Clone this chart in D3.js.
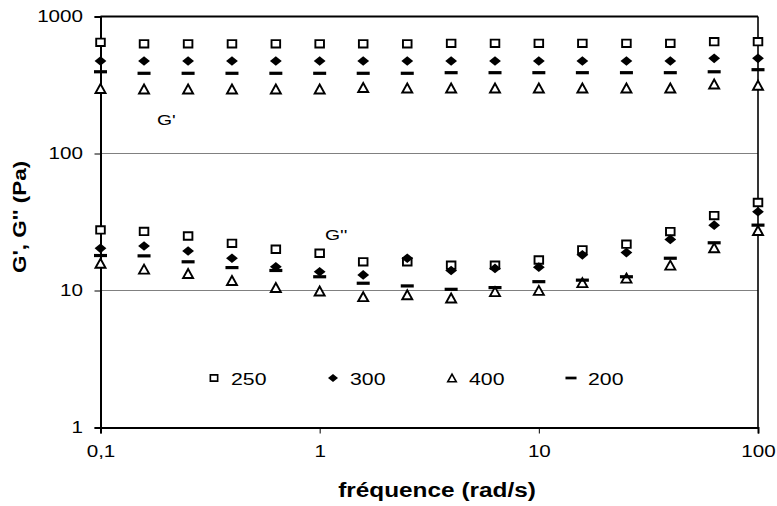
<!DOCTYPE html>
<html>
<head>
<meta charset="utf-8">
<script src="https://cdn.jsdelivr.net/npm/d3@7"></script>
<style>
  body { margin: 0; background: #fff; }
  text { font-family: "Liberation Sans", Arial, sans-serif; fill: #000; }
</style>
</head>
<body>
<div id="chart"></div>
<script>
// angular frequency (rad/s)
const freq = [0.1, 0.158, 0.251, 0.398, 0.631, 1, 1.58, 2.51, 3.98, 6.31, 10, 15.8, 25.1, 39.8, 63.1, 100];

// G' (storage modulus, Pa)
const gp250 = [648, 632, 632, 632, 632, 632, 632, 632, 637, 637, 637, 637, 637, 637, 655, 655];
const gp300 = [473, 473, 473, 473, 473, 473, 473, 473, 473, 473, 473, 473, 473, 473, 495, 495];
const gp400 = [298, 295, 295, 295, 295, 295, 303, 300, 300, 300, 300, 300, 300, 300, 321, 314];
const gp200 = [395, 385, 385, 385, 385, 385, 385, 385, 389, 389, 389, 389, 389, 389, 395, 409];

// G'' (loss modulus, Pa)
const gpp250 = [27.7, 27.0, 25.0, 22.1, 20.0, 18.7, 16.2, 16.2, 15.3, 15.3, 16.7, 19.8, 21.8, 26.9, 35.2, 43.9];
const gpp300 = [20.3, 21.1, 19.4, 17.2, 14.9, 13.7, 13.0, 17.2, 14.0, 14.5, 14.8, 18.2, 18.9, 23.6, 30.0, 37.6];
const gpp400 = [15.8, 14.3, 13.3, 11.8, 10.5, 9.9, 9.0, 9.3, 8.8, 9.8, 10.0, 11.4, 12.3, 15.3, 20.5, 27.4];
const gpp200 = [18.0, 17.9, 16.2, 14.7, 14.0, 12.6, 11.3, 10.8, 10.2, 10.5, 11.6, 11.9, 12.6, 17.2, 22.3, 30.0];

const seriesNames = ["250", "300", "400", "200"];
const seriesShapes = ["square", "diamond", "triangle", "dash"];
const seriesG1 = [gp250, gp300, gp400, gp200];
const seriesG2 = [gpp250, gpp300, gpp400, gpp200];

const xTicks = [0.1, 1, 10, 100];
const yTicks = [1, 10, 100, 1000];

const width = 777, height = 506;
const plot = { left: 100.5, right: 758, top: 16.5, bottom: 427.5 };
const SX = 1.25; // text in the original is drawn wide along its baseline

const svg = d3.select("#chart").append("svg")
    .attr("width", width)
    .attr("height", height);

const x = d3.scaleLog().domain([0.1, 100]).range([plot.left, plot.right]);
const y = d3.scaleLog().domain([1, 1000]).range([plot.bottom, plot.top]);

// gridlines
svg.append("g")
    .selectAll("line")
    .data([10, 100])
    .join("line")
    .attr("x1", plot.left).attr("x2", plot.right)
    .attr("y1", d => y(d)).attr("y2", d => y(d))
    .attr("stroke", "#808080")
    .attr("stroke-width", 1);

// frame top + right
svg.append("line")
    .attr("x1", plot.left).attr("x2", plot.right)
    .attr("y1", plot.top).attr("y2", plot.top)
    .attr("stroke", "#000").attr("stroke-width", 2);
svg.append("line")
    .attr("x1", plot.right).attr("x2", plot.right)
    .attr("y1", plot.top).attr("y2", plot.bottom)
    .attr("stroke", "#000").attr("stroke-width", 1.6);

// axes
const yAxis = d3.axisLeft(y)
    .tickValues(yTicks)
    .tickFormat(d3.format("d"))
    .tickSize(6)
    .tickPadding(8);

const xAxis = d3.axisBottom(x)
    .tickValues(xTicks)
    .tickFormat(d => String(d).replace(".", ","))
    .tickSize(6)
    .tickPadding(11.5);

const gy = svg.append("g")
    .attr("transform", `translate(${plot.left},0)`)
    .call(yAxis);
const gx = svg.append("g")
    .attr("transform", `translate(0,${plot.bottom})`)
    .call(xAxis);

[gx, gy].forEach(g => {
    g.select(".domain").attr("stroke", "#000").attr("stroke-width", 2);
    g.selectAll(".tick line").attr("stroke", "#000").attr("stroke-width", 1);
    g.selectAll(".tick text")
        .attr("font-family", "Liberation Sans, Arial, sans-serif")
        .attr("font-size", 16.5)
        .attr("transform", `scale(${SX},1)`);
});

// marker paths
function markerPath(shape) {
    switch (shape) {
        case "square": return "M-4.3,-3.7H4.3V3.7H-4.3Z";
        case "diamond": return "M0,-4.8L5.9,0L0,4.8L-5.9,0Z";
        case "triangle": return "M0,-4.6L5,4.4H-5Z";
        case "dash": return "M-6.5,-1.6H6.5V1.6H-6.5Z";
    }
}
function markerStyle(sel, shape) {
    if (shape === "square" || shape === "triangle") {
        sel.attr("fill", "#fff").attr("stroke", "#000").attr("stroke-width", 1.9)
            .attr("stroke-linejoin", "miter");
    } else {
        sel.attr("fill", "#000").attr("stroke", "none");
    }
}

// points: series drawn in legend order
seriesNames.forEach((name, i) => {
    const shape = seriesShapes[i];
    const pts = freq.map((f, j) => ({ f: f, v: seriesG1[i][j] }))
        .concat(freq.map((f, j) => ({ f: f, v: seriesG2[i][j] })));
    svg.append("g")
        .attr("class", "series-" + name)
        .selectAll("path")
        .data(pts)
        .join("path")
        .attr("d", markerPath(shape))
        .attr("transform", d => `translate(${x(d.f)},${y(d.v)})`)
        .call(markerStyle, shape);
});

// text helper, stretched along the baseline
function stretchedText(str, tx, ty, size, opts = {}) {
    return svg.append("text")
        .attr("transform", `translate(${tx},${ty})` + (opts.rotate ? ` rotate(${opts.rotate})` : "") + ` scale(${SX},1)`)
        .attr("text-anchor", opts.anchor || "start")
        .attr("font-size", size)
        .attr("font-weight", opts.bold ? "bold" : "normal")
        .text(str);
}

// curve labels
stretchedText("G'", 157, 124.5, 15.5);
stretchedText("G''", 325, 239.5, 15.5);

// legend
seriesNames.forEach((name, i) => {
    const lx = 214 + i * 119, ly = 378;
    svg.append("path")
        .attr("d", markerPath(seriesShapes[i]))
        .attr("transform", `translate(${lx},${ly}) scale(0.85)`)
        .call(markerStyle, seriesShapes[i]);
    stretchedText(name, lx + 17, ly + 7, 17);
});

// axis titles
stretchedText("fréquence (rad/s)", 437, 497, 19.5, { anchor: "middle", bold: true });
stretchedText("G', G'' (Pa)", 25.5, 217, 18, { anchor: "middle", bold: true, rotate: -90 });
</script>
</body>
</html>
